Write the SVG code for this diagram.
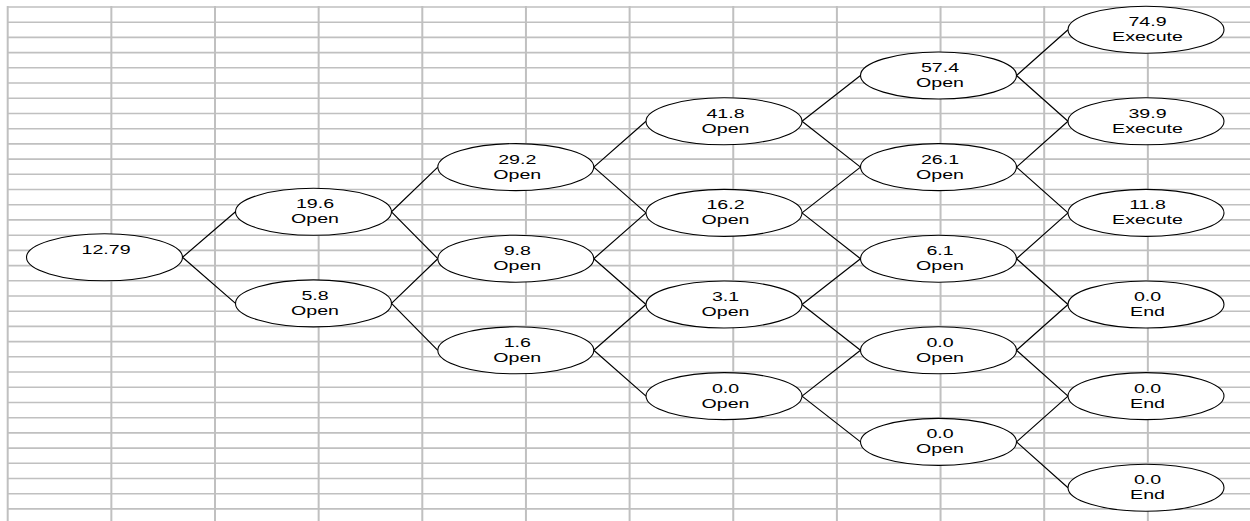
<svg xmlns="http://www.w3.org/2000/svg" width="1250" height="521" viewBox="0 0 1250 521">
  <style>
    .grid-h { stroke: #c0c0c0; stroke-width: 1.6; fill: none; }
    .grid-v { stroke: #c0c0c0; stroke-width: 2; fill: none; }
    .edge { stroke: #000; stroke-width: 1.2; fill: none; }
    .node ellipse { fill: #fff; stroke: #000; stroke-width: 1.1; }
    .node text { font-family: "Liberation Sans", Arial, sans-serif; font-size: 12.5px; fill: #000; text-anchor: middle; }
  </style>
  <rect width="1250" height="521" fill="#fff"/>

  <!-- worksheet grid -->
  <g id="grid">
    <path class="grid-h" d="M7,7H1250 M7,22.2H1250 M7,37.4H1250 M7,52.6H1250 M7,67.8H1250 M7,83H1250 M7,98.3H1250 M7,113.5H1250 M7,128.7H1250 M7,143.9H1250 M7,159.1H1250 M7,174.3H1250 M7,189.5H1250 M7,204.7H1250 M7,219.9H1250 M7,235.2H1250 M7,250.4H1250 M7,265.6H1250 M7,280.8H1250 M7,296H1250 M7,311.2H1250 M7,326.4H1250 M7,341.6H1250 M7,356.8H1250 M7,372H1250 M7,387.3H1250 M7,402.5H1250 M7,417.7H1250 M7,432.9H1250 M7,448.1H1250 M7,463.3H1250 M7,478.5H1250 M7,493.7H1250 M7,508.9H1250"/>
    <path class="grid-v" d="M7.7,6V521 M111.35,6V521 M215,6V521 M318.65,6V521 M422.3,6V521 M525.95,6V521 M629.6,6V521 M733.25,6V521 M836.9,6V521 M940.55,6V521 M1044.2,6V521 M1147.85,6V521"/>
  </g>

  <!-- lattice branches -->
  <g id="connectors">
    <path class="edge" d="M182.5,257.3L235.5,211.8 M182.5,257.3L235.5,303.4"/>
    <path class="edge" d="M391.5,211.8L437.8,167.1 M391.5,211.8L437.8,258.7 M391.5,303.4L437.8,258.7 M391.5,303.4L437.8,350.3"/>
    <path class="edge" d="M593.8,167.1L646,121.3 M593.8,167.1L646,212.9 M593.8,258.7L646,212.9 M593.8,258.7L646,304.5 M593.8,350.3L646,304.5 M593.8,350.3L646,396.1"/>
    <path class="edge" d="M802,121.3L860.5,75.5 M802,121.3L860.5,167.1 M802,212.9L860.5,167.1 M802,212.9L860.5,258.7 M802,304.5L860.5,258.7 M802,304.5L860.5,350.3 M802,396.1L860.5,350.3 M802,396.1L860.5,441.9"/>
    <path class="edge" d="M1016.5,75.5L1068,29.7 M1016.5,75.5L1068,121.3 M1016.5,167.1L1068,121.3 M1016.5,167.1L1068,212.9 M1016.5,258.7L1068,212.9 M1016.5,258.7L1068,304.5 M1016.5,350.3L1068,304.5 M1016.5,350.3L1068,396.1 M1016.5,441.9L1068,396.1 M1016.5,441.9L1068,487.7"/>
  </g>

  <!-- step 0 -->
  <g id="node-0-0" class="node">
    <ellipse cx="104.5" cy="257.3" rx="78" ry="23.5"/>
    <text transform="translate(106,254.3) scale(1.57,1)">12.79</text>
  </g>

  <!-- step 1 -->
  <g id="node-1-0" class="node">
    <ellipse cx="313.5" cy="211.8" rx="78" ry="23.5"/>
    <text transform="translate(315,208.3) scale(1.57,1)">19.6</text>
    <text transform="translate(315,223.3) scale(1.57,1)">Open</text>
  </g>
  <g id="node-1-1" class="node">
    <ellipse cx="313.5" cy="303.4" rx="78" ry="23.5"/>
    <text transform="translate(315,299.9) scale(1.57,1)">5.8</text>
    <text transform="translate(315,314.9) scale(1.57,1)">Open</text>
  </g>

  <!-- step 2 -->
  <g id="node-2-0" class="node">
    <ellipse cx="515.8" cy="167.1" rx="78" ry="23.5"/>
    <text transform="translate(517.3,163.6) scale(1.57,1)">29.2</text>
    <text transform="translate(517.3,178.6) scale(1.57,1)">Open</text>
  </g>
  <g id="node-2-1" class="node">
    <ellipse cx="515.8" cy="258.7" rx="78" ry="23.5"/>
    <text transform="translate(517.3,255.2) scale(1.57,1)">9.8</text>
    <text transform="translate(517.3,270.2) scale(1.57,1)">Open</text>
  </g>
  <g id="node-2-2" class="node">
    <ellipse cx="515.8" cy="350.3" rx="78" ry="23.5"/>
    <text transform="translate(517.3,346.8) scale(1.57,1)">1.6</text>
    <text transform="translate(517.3,361.8) scale(1.57,1)">Open</text>
  </g>

  <!-- step 3 -->
  <g id="node-3-0" class="node">
    <ellipse cx="724" cy="121.3" rx="78" ry="23.5"/>
    <text transform="translate(725.5,117.8) scale(1.57,1)">41.8</text>
    <text transform="translate(725.5,132.8) scale(1.57,1)">Open</text>
  </g>
  <g id="node-3-1" class="node">
    <ellipse cx="724" cy="212.9" rx="78" ry="23.5"/>
    <text transform="translate(725.5,209.4) scale(1.57,1)">16.2</text>
    <text transform="translate(725.5,224.4) scale(1.57,1)">Open</text>
  </g>
  <g id="node-3-2" class="node">
    <ellipse cx="724" cy="304.5" rx="78" ry="23.5"/>
    <text transform="translate(725.5,301) scale(1.57,1)">3.1</text>
    <text transform="translate(725.5,316) scale(1.57,1)">Open</text>
  </g>
  <g id="node-3-3" class="node">
    <ellipse cx="724" cy="396.1" rx="78" ry="23.5"/>
    <text transform="translate(725.5,392.6) scale(1.57,1)">0.0</text>
    <text transform="translate(725.5,407.6) scale(1.57,1)">Open</text>
  </g>

  <!-- step 4 -->
  <g id="node-4-0" class="node">
    <ellipse cx="938.5" cy="75.5" rx="78" ry="23.5"/>
    <text transform="translate(940,72) scale(1.57,1)">57.4</text>
    <text transform="translate(940,87) scale(1.57,1)">Open</text>
  </g>
  <g id="node-4-1" class="node">
    <ellipse cx="938.5" cy="167.1" rx="78" ry="23.5"/>
    <text transform="translate(940,163.6) scale(1.57,1)">26.1</text>
    <text transform="translate(940,178.6) scale(1.57,1)">Open</text>
  </g>
  <g id="node-4-2" class="node">
    <ellipse cx="938.5" cy="258.7" rx="78" ry="23.5"/>
    <text transform="translate(940,255.2) scale(1.57,1)">6.1</text>
    <text transform="translate(940,270.2) scale(1.57,1)">Open</text>
  </g>
  <g id="node-4-3" class="node">
    <ellipse cx="938.5" cy="350.3" rx="78" ry="23.5"/>
    <text transform="translate(940,346.8) scale(1.57,1)">0.0</text>
    <text transform="translate(940,361.8) scale(1.57,1)">Open</text>
  </g>
  <g id="node-4-4" class="node">
    <ellipse cx="938.5" cy="441.9" rx="78" ry="23.5"/>
    <text transform="translate(940,438.4) scale(1.57,1)">0.0</text>
    <text transform="translate(940,453.4) scale(1.57,1)">Open</text>
  </g>

  <!-- step 5 (expiry) -->
  <g id="node-5-0" class="node">
    <ellipse cx="1146" cy="29.7" rx="78" ry="23.5"/>
    <text transform="translate(1147.5,26.2) scale(1.57,1)">74.9</text>
    <text transform="translate(1147.5,41.2) scale(1.57,1)">Execute</text>
  </g>
  <g id="node-5-1" class="node">
    <ellipse cx="1146" cy="121.3" rx="78" ry="23.5"/>
    <text transform="translate(1147.5,117.8) scale(1.57,1)">39.9</text>
    <text transform="translate(1147.5,132.8) scale(1.57,1)">Execute</text>
  </g>
  <g id="node-5-2" class="node">
    <ellipse cx="1146" cy="212.9" rx="78" ry="23.5"/>
    <text transform="translate(1147.5,209.4) scale(1.57,1)">11.8</text>
    <text transform="translate(1147.5,224.4) scale(1.57,1)">Execute</text>
  </g>
  <g id="node-5-3" class="node">
    <ellipse cx="1146" cy="304.5" rx="78" ry="23.5"/>
    <text transform="translate(1147.5,301) scale(1.57,1)">0.0</text>
    <text transform="translate(1147.5,316) scale(1.57,1)">End</text>
  </g>
  <g id="node-5-4" class="node">
    <ellipse cx="1146" cy="396.1" rx="78" ry="23.5"/>
    <text transform="translate(1147.5,392.6) scale(1.57,1)">0.0</text>
    <text transform="translate(1147.5,407.6) scale(1.57,1)">End</text>
  </g>
  <g id="node-5-5" class="node">
    <ellipse cx="1146" cy="487.7" rx="78" ry="23.5"/>
    <text transform="translate(1147.5,484.2) scale(1.57,1)">0.0</text>
    <text transform="translate(1147.5,499.2) scale(1.57,1)">End</text>
  </g>
</svg>
